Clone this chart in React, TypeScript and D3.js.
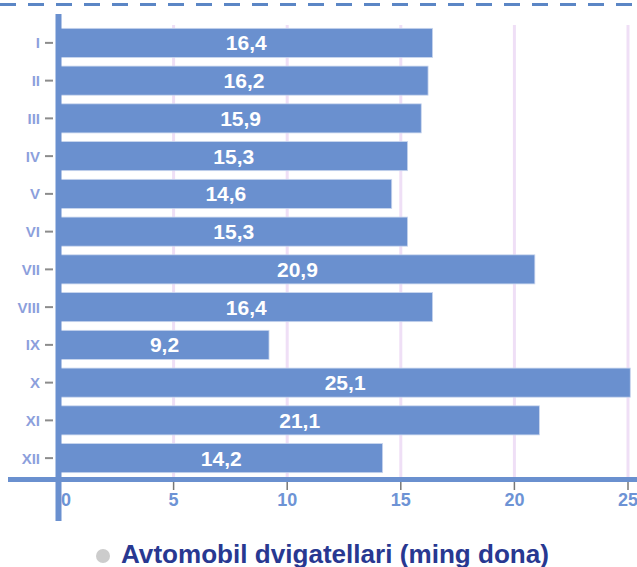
import React from "react";
import * as d3 from "d3";

const categories = ["I", "II", "III", "IV", "V", "VI", "VII", "VIII", "IX", "X", "XI", "XII"];
const values = [16.4, 16.2, 15.9, 15.3, 14.6, 15.3, 20.9, 16.4, 9.2, 25.1, 21.1, 14.2];
const xTicks = [0, 5, 10, 15, 20, 25];
const seriesName = "Avtomobil dvigatellari (ming dona)";

const W = 637;
const H = 567;

export default function App() {
  const x = d3.scaleLinear().domain([0, 25]).range([60, 628]);
  const y = d3
    .scaleBand<string>()
    .domain(categories)
    .range([24, 477])
    .paddingInner(0.23)
    .paddingOuter(0.115);
  const font = "'Liberation Sans', Arial, sans-serif";
  const fmt = (v: number) => v.toFixed(1).replace(".", ",");

  return (
    <svg
      width={W}
      height={H}
      style={{ position: "absolute", left: 0, top: 0, background: "#fff" }}
      fontFamily={font}
    >
      {/* top dashed line */}
      <line x1={0} x2={W} y1={4.5} y2={4.5} stroke="#5b86c5" strokeWidth={3} strokeDasharray="16 12" />

      {/* gridlines */}
      {xTicks.slice(1).map((t) => (
        <line key={"g" + t} x1={x(t)} x2={x(t)} y1={25} y2={477} stroke="#efdff6" strokeWidth={3} />
      ))}

      {/* bars */}
      {values.map((v, i) => (
        <rect
          key={"b" + i}
          x={x(0)}
          y={y(categories[i])}
          width={x(v) - x(0)}
          height={y.bandwidth()}
          fill="#6a90cf"
          stroke="#c9d6ee"
          strokeWidth={0.8}
        />
      ))}

      {/* bar labels */}
      {values.map((v, i) => (
        <text
          key={"l" + i}
          x={(x(0) + x(v)) / 2}
          y={(y(categories[i]) as number) + y.bandwidth() / 2}
          dy="0.36em"
          textAnchor="middle"
          fill="#fff"
          fontWeight="bold"
          fontSize={21}
        >
          {fmt(v)}
        </text>
      ))}

      {/* category ticks and labels */}
      {categories.map((c) => {
        const cy = (y(c) as number) + y.bandwidth() / 2;
        return (
          <g key={"c" + c}>
            <line x1={45} x2={53} y1={cy} y2={cy} stroke="#8c8c8c" strokeWidth={2} />
            <text
              x={40}
              y={cy}
              dy="0.36em"
              textAnchor="end"
              fill="#8c9fdc"
              fontWeight="bold"
              fontSize={15}
            >
              {c}
            </text>
          </g>
        );
      })}

      {/* horizontal axis */}
      <line x1={8} x2={W} y1={479.5} y2={479.5} stroke="#6a90cf" strokeWidth={5} />
      {xTicks.map((t) => (
        <g key={"t" + t}>
          <line x1={x(t)} x2={x(t)} y1={482} y2={490} stroke="#777" strokeWidth={1.5} />
          <text
            x={t === 0 ? x(t) + 6 : x(t)}
            y={500}
            dy="0.36em"
            textAnchor="middle"
            fill="#6d93d5"
            fontWeight="bold"
            fontSize={18}
          >
            {t}
          </text>
        </g>
      ))}

      {/* vertical axis */}
      <line x1={58.5} x2={58.5} y1={14} y2={521} stroke="#6a90cf" strokeWidth={6} />

      {/* legend */}
      <circle cx={103} cy={556} r={7} fill="#cccccc" />
      <text x={121} y={563} fill="#283891" fontWeight="bold" fontSize={25} textLength={428} lengthAdjust="spacingAndGlyphs">
        {seriesName}
      </text>
    </svg>
  );
}
